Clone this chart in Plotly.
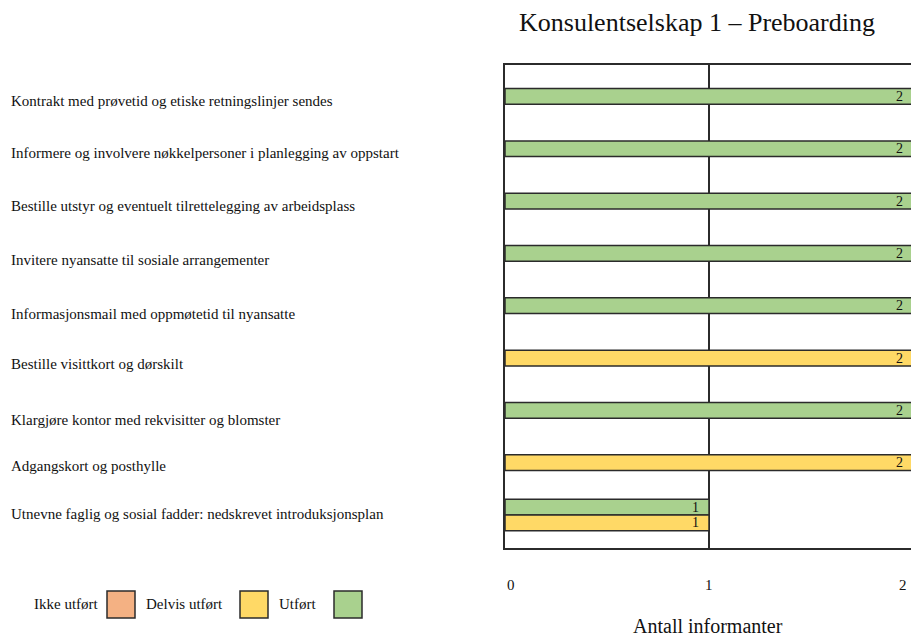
import plotly.graph_objects as go

# Activities (top to bottom) and number of informants per status
tasks = [
    "Kontrakt med prøvetid og etiske retningslinjer sendes",
    "Informere og involvere nøkkelpersoner i planlegging av oppstart",
    "Bestille utstyr og eventuelt tilrettelegging av arbeidsplass",
    "Invitere nyansatte til sosiale arrangementer",
    "Informasjonsmail med oppmøtetid til nyansatte",
    "Bestille visittkort og dørskilt",
    "Klargjøre kontor med rekvisitter og blomster",
    "Adgangskort og posthylle",
    "Utnevne faglig og sosial fadder: nedskrevet introduksjonsplan",
]
ikke_utfort = [0, 0, 0, 0, 0, 0, 0, 0, 0]
delvis_utfort = [0, 0, 0, 0, 0, 2, 0, 2, 1]
utfort = [2, 2, 2, 2, 2, 0, 2, 0, 1]

series_names = ["Ikke utført", "Delvis utført", "Utført"]
series_colors = ["#F4B183", "#FFD966", "#A9D18E"]
series_values = [ikke_utfort, delvis_utfort, utfort]

x_ticks = [0, 1, 2]
title_text = "Konsulentselskap 1 – Preboarding"
x_title = "Antall informanter"

FONT = "Liberation Serif"
W, H = 911, 637
ML, MR, MT, MB = 505, 0, 65, 89
PW, PH = W - ML - MR, H - MT - MB
X_MAX = 1.99
BAR_W = 0.3
OUTLINE = "#2b2b2b"
# small vertical nudges (px, positive = down) for the row labels
label_nudge = [5, 4, 5, 7, 8, 6, 10, 3, -1]


def px_x(px):
    return (px - ML) / PW


def px_y(py):
    return (H - MB - py) / PH


# order of bars inside a row, top first
stack_order = [2, 1, 0]

fig = go.Figure()
for s in stack_order:
    ys, xs, offs = [], [], []
    for i, task in enumerate(tasks):
        present = [k for k in stack_order if series_values[k][i] > 0]
        if series_values[s][i] <= 0:
            continue
        start = -len(present) * BAR_W / 2
        offs.append(start + present.index(s) * BAR_W)
        ys.append(task)
        xs.append(series_values[s][i])
    fig.add_trace(go.Bar(
        y=ys, x=xs, orientation="h", name=series_names[s],
        width=BAR_W, offset=offs,
        marker=dict(color=series_colors[s], line=dict(color=OUTLINE, width=1.5)),
        text=[f"{v}" for v in xs], textposition="inside",
        insidetextanchor="end", constraintext="none", textangle=0,
        texttemplate="%{text}\u2002",
        textfont=dict(family=FONT, size=14, color="#111"),
        showlegend=False,
    ))

fig.update_layout(
    width=W, height=H,
    margin=dict(l=ML, r=MR, t=MT, b=MB),
    paper_bgcolor="white", plot_bgcolor="white",
    barmode="overlay",
    font=dict(family=FONT, color="#111"),
    showlegend=False,
)
fig.update_xaxes(
    range=[0, X_MAX], tickvals=x_ticks, showticklabels=False,
    showgrid=True, gridcolor=OUTLINE, gridwidth=1.5,
    zeroline=False, showline=True, linecolor=OUTLINE, linewidth=1.5, mirror=True,
    fixedrange=True,
)
fig.update_yaxes(
    type="category", categoryorder="array", categoryarray=tasks,
    range=[len(tasks) - 1 + 0.63, -0.6], showticklabels=False,
    showgrid=False, zeroline=False,
    showline=True, linecolor=OUTLINE, linewidth=1.5, mirror=False,
    fixedrange=True,
)

ann = []
# row labels, left aligned at the page edge
for t, dy in zip(tasks, label_nudge):
    ann.append(dict(text=t, x=px_x(9), xref="paper", xanchor="left",
                    y=t, yref="y", yshift=-dy, showarrow=False,
                    font=dict(family=FONT, size=15, color="#111")))
# x tick labels below the frame (placed in paper units so the last one is kept)
last = len(x_ticks) - 1
for j, v in enumerate(x_ticks):
    ann.append(dict(text=str(v), x=v / X_MAX, xref="paper",
                    xanchor="left" if j == 0 else ("right" if j == last else "center"),
                    xshift=0 if j == 0 else (-4 if j == last else 0),
                    y=px_y(585), yref="paper", yanchor="middle", showarrow=False,
                    font=dict(family=FONT, size=15, color="#111")))
# axis title and chart title
ann.append(dict(text=x_title, x=px_x(708), xref="paper", xanchor="center",
                y=px_y(626), yref="paper", yanchor="middle", showarrow=False,
                font=dict(family=FONT, size=20, color="#111")))
ann.append(dict(text=title_text, x=px_x(697), xref="paper", xanchor="center",
                y=px_y(22), yref="paper", yanchor="middle", showarrow=False,
                font=dict(family=FONT, size=26, color="#111")))

# legend: text followed by a colour swatch
legend_text_right = [101, 225, 318]
legend_box_left = [107, 240, 334]
shapes = []
for name, color, tr, bl in zip(series_names, series_colors, legend_text_right, legend_box_left):
    ann.append(dict(text=name, x=px_x(tr), xref="paper", xanchor="right",
                    y=px_y(604), yref="paper", yanchor="middle", showarrow=False,
                    font=dict(family=FONT, size=15, color="#111")))
    shapes.append(dict(type="rect", xref="paper", yref="paper",
                       x0=px_x(bl), x1=px_x(bl + 28), y0=px_y(618), y1=px_y(591),
                       fillcolor=color, line=dict(color=OUTLINE, width=1.5)))

fig.update_layout(annotations=ann, shapes=shapes)
fig.write_html("out.html")
